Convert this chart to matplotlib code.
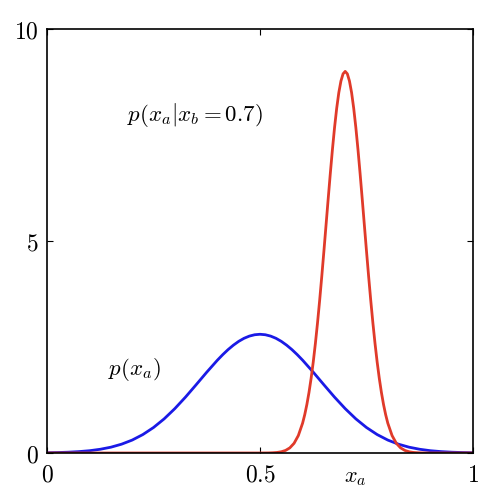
import matplotlib
matplotlib.use("Agg")
import matplotlib.pyplot as plt

plt.rcParams['mathtext.fontset'] = 'cm'

# valores
x_marg = [0.000, 0.025, 0.050, 0.075, 0.100, 0.125, 0.150, 0.175, 0.200, 0.225,
          0.250, 0.275, 0.300, 0.325, 0.350, 0.375, 0.400, 0.4125, 0.425, 0.4375,
          0.450, 0.4625, 0.475, 0.4875, 0.500, 0.5125, 0.525, 0.5375, 0.550, 0.5625,
          0.575, 0.5875, 0.600, 0.625, 0.650, 0.675, 0.700, 0.725,
          0.750, 0.775, 0.800, 0.825, 0.850, 0.875, 0.900, 0.925, 0.950, 0.975, 1.000]
p_marg = [0.006, 0.011, 0.019, 0.033, 0.054, 0.088, 0.137, 0.208, 0.305, 0.435,
          0.601, 0.805, 1.046, 1.317, 1.609, 1.906, 2.189, 2.319, 2.438, 2.543,
          2.633, 2.705, 2.757, 2.789, 2.800, 2.789, 2.757, 2.705, 2.633, 2.543,
          2.438, 2.319, 2.189, 1.906, 1.609, 1.317, 1.046, 0.805,
          0.601, 0.435, 0.305, 0.208, 0.137, 0.088, 0.054, 0.033, 0.019, 0.011, 0.006]

x_cond = [0.00, 0.50, 0.52, 0.53, 0.54, 0.55, 0.56, 0.57, 0.58, 0.59, 0.60, 0.605,
          0.61, 0.615, 0.62, 0.625, 0.63, 0.635, 0.64, 0.645, 0.65, 0.655,
          0.66, 0.665, 0.67, 0.675, 0.68, 0.685, 0.69, 0.695, 0.70,
          0.705, 0.71, 0.715, 0.72, 0.725, 0.73, 0.735, 0.74, 0.745, 0.75,
          0.755, 0.76, 0.765, 0.77, 0.775, 0.78, 0.785, 0.79, 0.795, 0.80,
          0.81, 0.82, 0.83, 0.84, 0.85, 0.86, 0.87, 0.88, 0.90, 1.00]
p_cond = [0.000, 0.000, 0.002, 0.006, 0.013, 0.029, 0.061, 0.121, 0.229, 0.412, 0.704, 0.903,
          1.143, 1.428, 1.762, 2.147, 2.583, 3.067, 3.596, 4.164, 4.760, 5.373,
          5.987, 6.587, 7.156, 7.675, 8.128, 8.499, 8.773, 8.943, 9.000,
          8.943, 8.773, 8.499, 8.128, 7.675, 7.156, 6.587, 5.987, 5.373, 4.760,
          4.164, 3.596, 3.067, 2.583, 2.147, 1.762, 1.428, 1.143, 0.903, 0.704,
          0.412, 0.229, 0.121, 0.061, 0.029, 0.013, 0.006, 0.002, 0.000, 0.000]

x_ticks = [0, 0.5, 1]
x_ticklabels = ['$0$', '$0.5$', '$1$']
y_ticks = [0, 5, 10]
y_ticklabels = ['$0$', '$5$', '$10$']

fig = plt.figure(figsize=(5, 5), dpi=100)
ax = fig.add_axes([0.094, 0.094, 0.852, 0.848])

ax.plot(x_marg, p_marg, color='#1a1ae6', linewidth=2.0)  # marginal
ax.plot(x_cond, p_cond, color='#e03a2a', linewidth=2.0)  # condicional

ax.set_xlim(0, 1)
ax.set_ylim(0, 10)
ax.set_xticks(x_ticks)
ax.set_xticklabels(x_ticklabels, fontsize=17)
ax.set_yticks(y_ticks)
ax.set_yticklabels(y_ticklabels, fontsize=17)
ax.tick_params(axis='x', direction='in', length=4, top=True, pad=7)
ax.tick_params(axis='y', direction='in', length=4, right=True, pad=6)
for s in ax.spines.values():
    s.set_linewidth(1.2)

ax.text(0.187, 7.97, r'$p(x_a|x_b=0.7)$', fontsize=16.5, va='center', ha='left')
ax.text(0.143, 1.96, r'$p(x_a)$', fontsize=16.5, va='center', ha='left')
ax.text(0.723, -0.6, r'$x_a$', fontsize=16, va='center', ha='center')

fig.savefig('out.png', dpi=100)
